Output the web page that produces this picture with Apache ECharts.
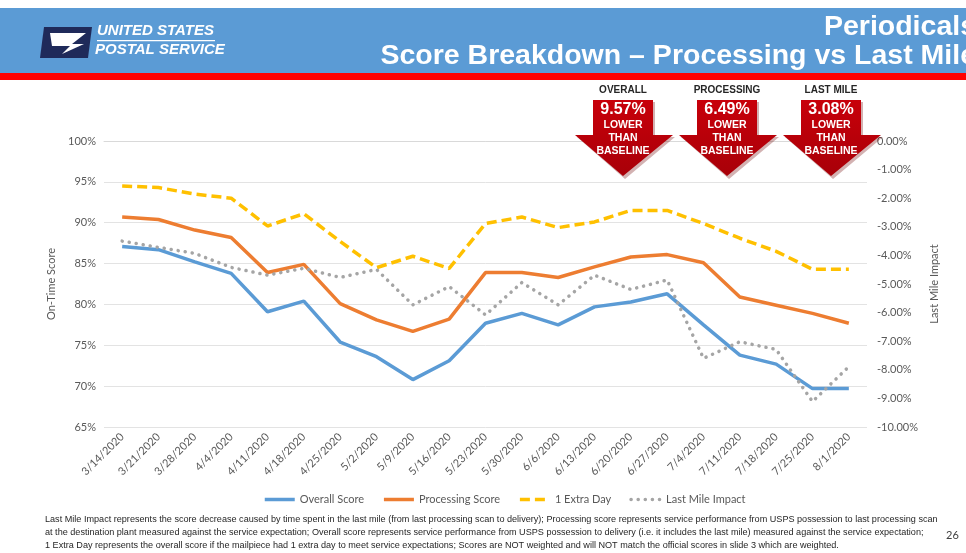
<!DOCTYPE html>
<html>
<head>
<meta charset="utf-8">
<script src="https://cdn.jsdelivr.net/npm/echarts@6/dist/echarts.min.js"></script>
<style>
  html, body { margin: 0; padding: 0; background: #fff; }
  #chart { width: 966px; height: 553px; }
</style>
</head>
<body>
<div id="chart"></div>
<script>
// weekly dates
var categories = ['3/14/2020','3/21/2020','3/28/2020','4/4/2020','4/11/2020','4/18/2020','4/25/2020',
  '5/2/2020','5/9/2020','5/16/2020','5/23/2020','5/30/2020','6/6/2020','6/13/2020','6/20/2020',
  '6/27/2020','7/4/2020','7/11/2020','7/18/2020','7/25/2020','8/1/2020'];

var overallScore    = [87.1, 86.7, 85.2, 83.8, 79.1, 80.4, 75.4, 73.6, 70.8, 73.1, 77.7,
                       78.9, 77.5, 79.7, 80.3, 81.3, 77.5, 73.8, 72.7, 69.7, 69.7];
var processingScore = [90.7, 90.4, 89.1, 88.2, 83.9, 84.9, 80.1, 78.1, 76.7, 78.2, 83.9,
                       83.9, 83.3, 84.6, 85.8, 86.1, 85.1, 80.9, 79.9, 78.9, 77.7];
var extraDay        = [94.5, 94.3, 93.5, 93.0, 89.6, 91.1, 87.7, 84.5, 85.9, 84.4, 89.9,
                       90.7, 89.4, 90.1, 91.5, 91.5, 89.9, 88.1, 86.5, 84.3, 84.3];
var lastMileImpact  = [-3.50, -3.72, -3.93, -4.42, -4.69, -4.45, -4.77, -4.49, -5.73, -5.09, -6.08,
                       -4.95, -5.73, -4.69, -5.19, -4.86, -7.60, -7.02, -7.29, -9.11, -7.89];

// callout arrows
var arrowTitles = ['OVERALL', 'PROCESSING', 'LAST MILE'];
var arrowValues = ['9.57%', '6.49%', '3.08%'];

var footnote = [
  'Last Mile Impact represents the score decrease caused by time spent in the last mile (from last processing scan to delivery); Processing score represents service performance from USPS possession to last processing scan',
  'at the destination plant measured against the service expectation; Overall score represents service performance from USPS possession to delivery (i.e. it includes the last mile) measured against the service expectation;',
  '1 Extra Day represents the overall score if the mailpiece had 1 extra day to meet service expectations; Scores are NOT weighted and will NOT match the official scores in slide 3 which are weighted.'
];

var labelColor = '#595959';
var labelFont = 'Lato, "Open Sans", sans-serif';

function arrow(cx, title, value) {
  var bl = cx - 30, br = cx + 30, hl = cx - 48, hr = cx + 50;
  return [
    {
      type: 'polygon', z: 100,
      shape: { points: [[bl + 2, 102], [br + 2, 102], [br + 2, 137], [hr + 2, 137], [cx + 2, 179], [hl + 2, 137], [bl + 2, 137]] },
      style: { fill: 'rgba(110,0,0,0.3)' }
    },
    {
      type: 'polygon', z: 101,
      shape: { points: [[bl, 100], [br, 100], [br, 135], [hr, 135], [cx, 176], [hl, 135], [bl, 135]] },
      style: {
        fill: new echarts.graphic.LinearGradient(0, 0, 0, 1, [
          { offset: 0, color: '#c8000a' }, { offset: 1, color: '#a80008' }
        ])
      }
    },
    {
      type: 'text', z: 102, x: cx, y: 90,
      style: { text: title, fill: '#262626', font: 'bold 10px "Liberation Sans", Arial, sans-serif', align: 'center', verticalAlign: 'middle' }
    },
    {
      type: 'text', z: 102, x: cx, y: 110,
      style: { text: value, fill: '#fff', font: 'bold 16px "Liberation Sans", Arial, sans-serif', align: 'center', verticalAlign: 'middle' }
    },
    {
      type: 'text', z: 102, x: cx, y: 138,
      style: { text: 'LOWER\nTHAN\nBASELINE', fill: '#fff', font: 'bold 10.5px "Liberation Sans", Arial, sans-serif', align: 'center', verticalAlign: 'middle', lineHeight: 13 }
    }
  ];
}

var graphics = [
  { type: 'rect', z: 0, shape: { x: 0, y: 8, width: 966, height: 65 }, style: { fill: '#5b9bd5' } },
  { type: 'rect', z: 0, shape: { x: 0, y: 73, width: 966, height: 7 }, style: { fill: '#ff0000' } },
  // logo
  { type: 'polygon', z: 1, shape: { points: [[44, 27], [92, 27], [88, 58], [40, 58]] }, style: { fill: '#1f2a5a' } },
  { type: 'polygon', z: 2, shape: { points: [[50, 33], [86, 33], [72, 44], [84, 44], [62, 54], [70, 46], [52, 46]] }, style: { fill: '#ffffff' } },
  { type: 'text', z: 2, x: 97, y: 31, style: { text: 'UNITED STATES', fill: '#fff', font: 'italic bold 15px "Liberation Sans", Arial', verticalAlign: 'middle' } },
  { type: 'rect', z: 2, shape: { x: 97, y: 40, width: 118, height: 1.2 }, style: { fill: '#fff' } },
  { type: 'text', z: 2, x: 95, y: 50, style: { text: 'POSTAL SERVICE', fill: '#fff', font: 'italic bold 15px "Liberation Sans", Arial', verticalAlign: 'middle' } },
  { type: 'text', z: 2, x: 976, y: 27, style: { text: 'Periodicals', fill: '#fff', font: 'bold 28.5px "Liberation Sans", Arial', align: 'right', verticalAlign: 'middle' } },
  { type: 'text', z: 2, x: 976, y: 56, style: { text: 'Score Breakdown \u2013 Processing vs Last Mile', fill: '#fff', font: 'bold 28.5px "Liberation Sans", Arial', align: 'right', verticalAlign: 'middle' } },
  { type: 'text', z: 2, x: 45, y: 513, style: { text: footnote.join('\n'), fill: '#262626', font: '9.1px "Liberation Sans", Arial', lineHeight: 13 } },
  { type: 'text', z: 2, x: 946, y: 535, style: { text: '26', fill: '#404040', font: '11px Lato, sans-serif', verticalAlign: 'middle' } }
];
var arrowCenters = [623, 727, 831];
for (var i = 0; i < 3; i++) {
  graphics = graphics.concat(arrow(arrowCenters[i], arrowTitles[i], arrowValues[i]));
}

var chart = echarts.init(document.getElementById('chart'));
chart.setOption({
  animation: false,
  backgroundColor: '#fff',
  textStyle: { fontFamily: labelFont },
  grid: { left: 104, right: 99, top: 141, bottom: 126 },
  legend: {
    left: 258, top: 489,
    itemWidth: 30, itemHeight: 10, itemGap: 18,
    itemStyle: { opacity: 0 },
    lineStyle: { width: 3.5 },
    textStyle: { color: labelColor, fontSize: 11, fontFamily: labelFont },
    data: ['Overall Score', 'Processing Score', '1 Extra Day', 'Last Mile Impact']
  },
  xAxis: {
    type: 'category',
    data: categories,
    boundaryGap: true,
    axisTick: { show: false },
    axisLine: { lineStyle: { color: '#d9d9d9' } },
    axisLabel: { rotate: 45, color: labelColor, fontSize: 11, fontFamily: labelFont, margin: 8 }
  },
  yAxis: [
    {
      type: 'value', min: 65, max: 100, interval: 5,
      name: 'On-Time Score', nameLocation: 'middle', nameGap: 38,
      nameTextStyle: { color: labelColor, fontSize: 11, fontFamily: labelFont },
      axisLine: { show: false }, axisTick: { show: false },
      axisLabel: { color: labelColor, fontSize: 11, fontFamily: labelFont, formatter: '{value}%' },
      splitLine: { lineStyle: { color: '#e3e3e3' } }
    },
    {
      type: 'value', min: -10, max: 0, interval: 1, position: 'right',
      name: 'Last Mile Impact', nameLocation: 'middle', nameGap: 58,
      nameTextStyle: { color: labelColor, fontSize: 11, fontFamily: labelFont },
      axisLine: { show: false }, axisTick: { show: false },
      axisLabel: { color: labelColor, fontSize: 11, fontFamily: labelFont, margin: 10,
        formatter: function (v) { return v.toFixed(2) + '%'; } },
      splitLine: { show: false }
    }
  ],
  series: [
    { name: 'Overall Score', type: 'line', data: overallScore, symbol: 'none',
      itemStyle: { color: '#5b9bd5' }, lineStyle: { color: '#5b9bd5', width: 3.5 } },
    { name: 'Processing Score', type: 'line', data: processingScore, symbol: 'none',
      itemStyle: { color: '#ed7d31' }, lineStyle: { color: '#ed7d31', width: 3.5 } },
    { name: '1 Extra Day', type: 'line', data: extraDay, symbol: 'none',
      itemStyle: { color: '#ffc000' }, lineStyle: { color: '#ffc000', width: 3.5, type: [10, 5] } },
    { name: 'Last Mile Impact', type: 'line', yAxisIndex: 1, data: lastMileImpact, symbol: 'none',
      itemStyle: { color: '#a5a5a5' }, lineStyle: { color: '#a5a5a5', width: 3.5, type: [0.1, 7], cap: 'round' } }
  ],
  graphic: graphics
});
</script>
</body>
</html>
